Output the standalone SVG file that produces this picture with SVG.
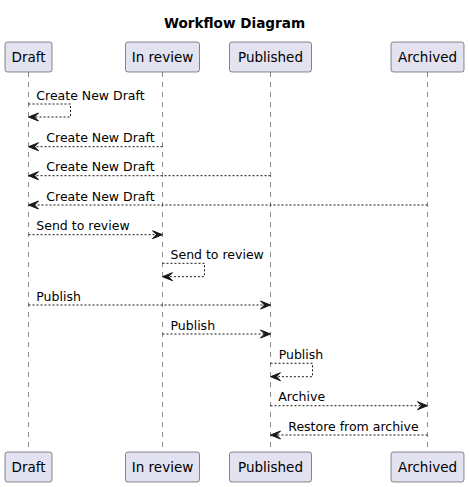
<svg xmlns="http://www.w3.org/2000/svg" width="469" height="487" viewBox="0 0 469 487">
<style>
text{font-family:"DejaVu Sans",sans-serif;fill:#000}
.title{font-size:13.6px;font-weight:bold}
.pt{font-size:13.5px}
.lbl{font-size:12.5px}
.box{fill:#E2E2F0;stroke:#181818;stroke-width:0.5}
.life{stroke:#181818;stroke-width:0.5;stroke-dasharray:5,5;fill:none}
.msg{stroke:#181818;stroke-width:1;stroke-dasharray:2,2;fill:none}
.ah{fill:#181818;stroke:#181818;stroke-width:1}
</style>
<rect width="469" height="487" fill="#FFFFFF"/>
<text class="title" x="234.5" y="28" text-anchor="middle">Workflow Diagram</text>
<g id="lifelines">
<line class="life" x1="28.5" y1="72" x2="28.5" y2="452"/>
<line class="life" x1="162.5" y1="72" x2="162.5" y2="452"/>
<line class="life" x1="270.5" y1="72" x2="270.5" y2="452"/>
<line class="life" x1="427.5" y1="72" x2="427.5" y2="452"/>
</g>
<g id="draft">
<rect class="box" x="5" y="42" width="47" height="30" rx="2.5"/>
<text class="pt" x="28.5" y="62" text-anchor="middle">Draft</text>
<rect class="box" x="5" y="452" width="47" height="30" rx="2.5"/>
<text class="pt" x="28.5" y="472" text-anchor="middle">Draft</text>
</g>
<g id="inreview">
<rect class="box" x="125.5" y="42" width="74" height="30" rx="2.5"/>
<text class="pt" x="162.5" y="62" text-anchor="middle">In review</text>
<rect class="box" x="125.5" y="452" width="74" height="30" rx="2.5"/>
<text class="pt" x="162.5" y="472" text-anchor="middle">In review</text>
</g>
<g id="published">
<rect class="box" x="229.5" y="42" width="82" height="30" rx="2.5"/>
<text class="pt" x="270.5" y="62" text-anchor="middle">Published</text>
<rect class="box" x="229.5" y="452" width="82" height="30" rx="2.5"/>
<text class="pt" x="270.5" y="472" text-anchor="middle">Published</text>
</g>
<g id="archived">
<rect class="box" x="391" y="42" width="73" height="30" rx="2.5"/>
<text class="pt" x="427.5" y="62" text-anchor="middle">Archived</text>
<rect class="box" x="391" y="452" width="73" height="30" rx="2.5"/>
<text class="pt" x="427.5" y="472" text-anchor="middle">Archived</text>
</g>
<g id="connectors">
<!-- 1 self Draft -->
<path class="msg" d="M28.5,104 H70.5 V117 H29.5"/>
<polygon class="ah" points="38.5,113 28.5,117 38.5,121 34.5,117"/>
<text class="lbl" x="36.3" y="100">Create New Draft</text>
<!-- 2 -->
<line class="msg" x1="162.5" y1="146.7" x2="29.5" y2="146.7"/>
<polygon class="ah" points="38.5,142.7 28.5,146.7 38.5,150.7 34.5,146.7"/>
<text class="lbl" x="46.3" y="142.3">Create New Draft</text>
<!-- 3 -->
<line class="msg" x1="270.5" y1="175.7" x2="29.5" y2="175.7"/>
<polygon class="ah" points="38.5,171.7 28.5,175.7 38.5,179.7 34.5,175.7"/>
<text class="lbl" x="46.3" y="171.3">Create New Draft</text>
<!-- 4 -->
<line class="msg" x1="427.5" y1="205" x2="29.5" y2="205"/>
<polygon class="ah" points="38.5,201 28.5,205 38.5,209 34.5,205"/>
<text class="lbl" x="46.3" y="200.6">Create New Draft</text>
<!-- 5 -->
<line class="msg" x1="28.5" y1="234.7" x2="161.5" y2="234.7"/>
<polygon class="ah" points="152.5,230.7 162.5,234.7 152.5,238.7 156.5,234.7"/>
<text class="lbl" x="36.3" y="230.3">Send to review</text>
<!-- 6 self In review -->
<path class="msg" d="M162.5,263.3 H204.5 V276.7 H163.5"/>
<polygon class="ah" points="172.5,272.7 162.5,276.7 172.5,280.7 168.5,276.7"/>
<text class="lbl" x="170.5" y="259.3">Send to review</text>
<!-- 7 -->
<line class="msg" x1="28.5" y1="305" x2="269.5" y2="305"/>
<polygon class="ah" points="260.5,301 270.5,305 260.5,309 264.5,305"/>
<text class="lbl" x="36.3" y="300.6">Publish</text>
<!-- 8 -->
<line class="msg" x1="162.5" y1="334" x2="269.5" y2="334"/>
<polygon class="ah" points="260.5,330 270.5,334 260.5,338 264.5,334"/>
<text class="lbl" x="170.5" y="329.6">Publish</text>
<!-- 9 self Published -->
<path class="msg" d="M270.5,363.3 H312.5 V376.7 H271.5"/>
<polygon class="ah" points="280.5,372.7 270.5,376.7 280.5,380.7 276.5,376.7"/>
<text class="lbl" x="278.7" y="359.3">Publish</text>
<!-- 10 -->
<line class="msg" x1="270.5" y1="405.7" x2="426.5" y2="405.7"/>
<polygon class="ah" points="417.5,401.7 427.5,405.7 417.5,409.7 421.5,405.7"/>
<text class="lbl" x="278.3" y="401.3">Archive</text>
<!-- 11 -->
<line class="msg" x1="427.5" y1="435" x2="271.5" y2="435"/>
<polygon class="ah" points="280.5,431 270.5,435 280.5,439 276.5,435"/>
<text class="lbl" x="288.3" y="430.6">Restore from archive</text>
</g>
</svg>
